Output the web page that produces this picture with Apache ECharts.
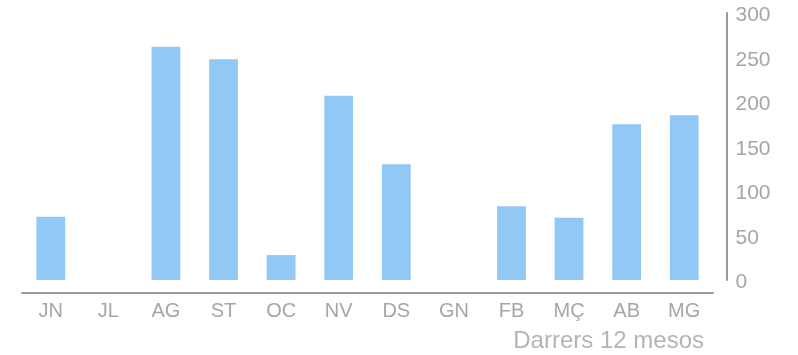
<!DOCTYPE html>
<html>
<head>
<meta charset="utf-8">
<script src="https://cdn.jsdelivr.net/npm/echarts@6/dist/echarts.min.js"></script>
<style>
  html, body { margin: 0; padding: 0; background: #fff; }
  #chart { width: 798px; height: 355px; }
</style>
</head>
<body>
<div id="chart"></div>
<script>
// Months (Catalan abbreviations) for the last 12 months
const months = ['JN', 'JL', 'AG', 'ST', 'OC', 'NV', 'DS', 'GN', 'FB', 'MÇ', 'AB', 'MG'];
// Monthly totals
const values = [71, 0, 262, 248, 28, 207, 130, 0, 83, 70, 175, 185];
// Value axis ticks
const yMin = 0;
const yMax = 300;
const yStep = 50;
const footer = 'Darrers 12 mesos';

const fontFamily = '"Liberation Sans", Arial, sans-serif';
const labelColor = '#a6a6a6';
const chart = echarts.init(document.getElementById('chart'), null, { renderer: 'canvas' });

chart.setOption({
  animation: false,
  backgroundColor: '#ffffff',
  title: {
    text: footer,
    right: 94,
    top: 329,
    padding: 0,
    textStyle: { fontFamily, fontWeight: 'normal', fontSize: 24, color: '#b4b4b4' }
  },
  grid: { left: 22, right: 85, top: 13, bottom: 75, containLabel: false },
  xAxis: {
    type: 'category',
    data: months,
    offset: 12.5,
    axisLine: { show: true, onZero: false, lineStyle: { color: '#9a9a9a', width: 2 } },
    axisTick: { show: false },
    axisLabel: { color: labelColor, fontFamily, fontSize: 20, margin: 9 }
  },
  yAxis: {
    type: 'value',
    position: 'right',
    min: yMin,
    max: yMax,
    interval: yStep,
    offset: 13.5,
    axisLine: { show: true, lineStyle: { color: '#9a9a9a', width: 2 } },
    axisTick: { show: false },
    splitLine: { show: false },
    axisLabel: {
      margin: 9,
      formatter: '{v|{value}}',
      rich: { v: { color: labelColor, fontFamily, fontSize: 21, padding: [5, 0, 0, 0] } }
    }
  },
  series: [{
    type: 'bar',
    data: values,
    barWidth: '50%',
    itemStyle: { color: '#92C8F6' }
  }]
});
</script>
</body>
</html>
